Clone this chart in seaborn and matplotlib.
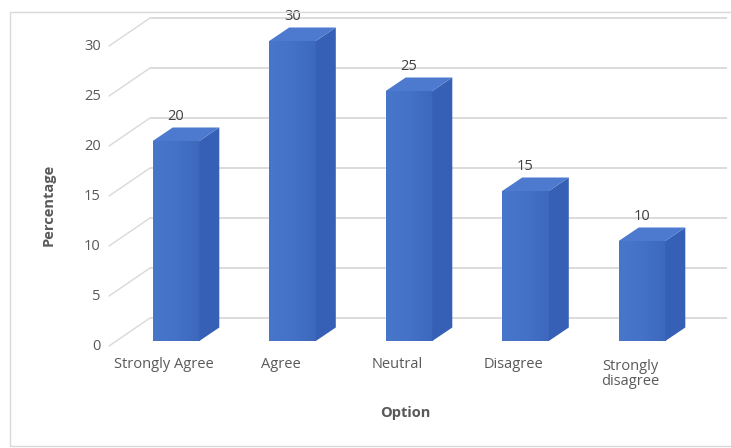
import numpy as np
import pandas as pd
import matplotlib
matplotlib.use("Agg")
import matplotlib.pyplot as plt
from matplotlib.patches import Polygon, Rectangle
from matplotlib.colors import LinearSegmentedColormap
import seaborn as sns

# Survey responses
options = ["Strongly Agree", "Agree", "Neutral", "Disagree", "Strongly disagree"]
option_labels = ["Strongly Agree", "Agree", "Neutral", "Disagree", "Strongly\ndisagree"]
percentages = [20, 30, 25, 15, 10]
y_ticks = [0, 5, 10, 15, 20, 25, 30]

sns.set_theme(style="white")
plt.rcParams["font.family"] = ["Open Sans", "DejaVu Sans"]

TEXT = "#595959"
GRID = "#d9d9d9"

W_PX, H_PX = 731, 448
fig = plt.figure(figsize=(W_PX / 100, H_PX / 100), dpi=100)

# axes placed in pixel terms: left 40, right 728, top 10, bottom 360
L, R, T, B = 40, 728, 10, 360
ax = fig.add_axes([L / W_PX, (H_PX - B) / H_PX, (R - L) / W_PX, (B - T) / H_PX])
px_per_cat = 116.5
x0_px = 176
y0_px = 341
px_per_unit = 10.0

df = pd.DataFrame({"Option": options, "Percentage": percentages})
sns.barplot(data=df, x="Option", y="Percentage", color="#4472C4", width=0.40,
            ax=ax, zorder=3, saturation=1, order=options)
ax.set_xlim((L - x0_px) / px_per_cat, (R - x0_px) / px_per_cat)
ax.set_ylim((y0_px - B) / px_per_unit, (y0_px - T) / px_per_unit)
ax.axis("off")

# 3-D geometry (data units)
bar_dx, bar_dy = 20 / px_per_cat, 1.35             # bar depth
wall_x, wall_dy = (150 - x0_px) / px_per_cat, 2.3   # back wall
front_x, front_dy = (109 - x0_px) / px_per_cat, -0.5  # front edge of the axis
right_x = (727 - x0_px) / px_per_cat

# back-wall gridlines and diagonal floor/wall connectors
for v in y_ticks:
    ax.plot([wall_x, right_x], [v + wall_dy, v + wall_dy], color=GRID, lw=1.3,
            zorder=0, solid_capstyle="butt")
    ax.plot([front_x, wall_x], [v + front_dy, v + wall_dy], color=GRID, lw=1.0,
            zorder=0)
    ax.text(front_x - 0.07, v + front_dy, str(v), ha="right", va="center",
            fontsize=10.5, color=TEXT)

# shade each bar and add its top and side faces
grad = LinearSegmentedColormap.from_list("front", ["#4776ca", "#4472c6", "#3d68bd"])
gimg = np.linspace(0, 1, 64).reshape(1, -1)
for patch, val in zip(ax.patches, percentages):
    x, y = patch.get_x(), patch.get_y()
    w, h = patch.get_width(), patch.get_height()
    im = ax.imshow(gimg, cmap=grad, extent=[x, x + w, y, y + h], aspect="auto",
                   zorder=3.1, interpolation="bicubic")
    im.set_clip_path(patch)
    side = Polygon([[x + w, y], [x + w + bar_dx, y + bar_dy],
                    [x + w + bar_dx, y + h + bar_dy], [x + w, y + h]],
                   closed=True, facecolor="#3560b6", edgecolor="none", zorder=3.2)
    top = Polygon([[x, y + h], [x + bar_dx, y + h + bar_dy],
                   [x + w + bar_dx, y + h + bar_dy], [x + w, y + h]],
                  closed=True, facecolor="#4d7ace", edgecolor="none", zorder=3.2)
    ax.add_patch(side)
    ax.add_patch(top)
    ax.text(x + w / 2, val + 2.4, str(val), ha="center", va="center",
            fontsize=10.5, color="#404040", zorder=4)

# category labels along the floor front edge
for i, lab in enumerate(option_labels):
    multi = "\n" in lab
    ax.text(i - 0.1, -3.3 if multi else -2.3, lab, ha="center", va="center",
            fontsize=10.5, color=TEXT, linespacing=1.0)

# axis titles
fig.text(49 / W_PX, 1 - 205 / H_PX, "Percentage", rotation=90, ha="center",
         va="center", fontsize=10.5, fontweight="bold", color=TEXT)
fig.text(405 / W_PX, 1 - 413 / H_PX, "Option", ha="center", va="center",
         fontsize=10.5, fontweight="bold", color=TEXT)

# chart area frame
fig.patches.append(Rectangle((10 / W_PX, 1 - 446 / H_PX), 730 / W_PX, 434 / H_PX,
                             transform=fig.transFigure, fill=False,
                             edgecolor=GRID, lw=1.0))

fig.savefig("out.png", dpi=100, facecolor="white")
